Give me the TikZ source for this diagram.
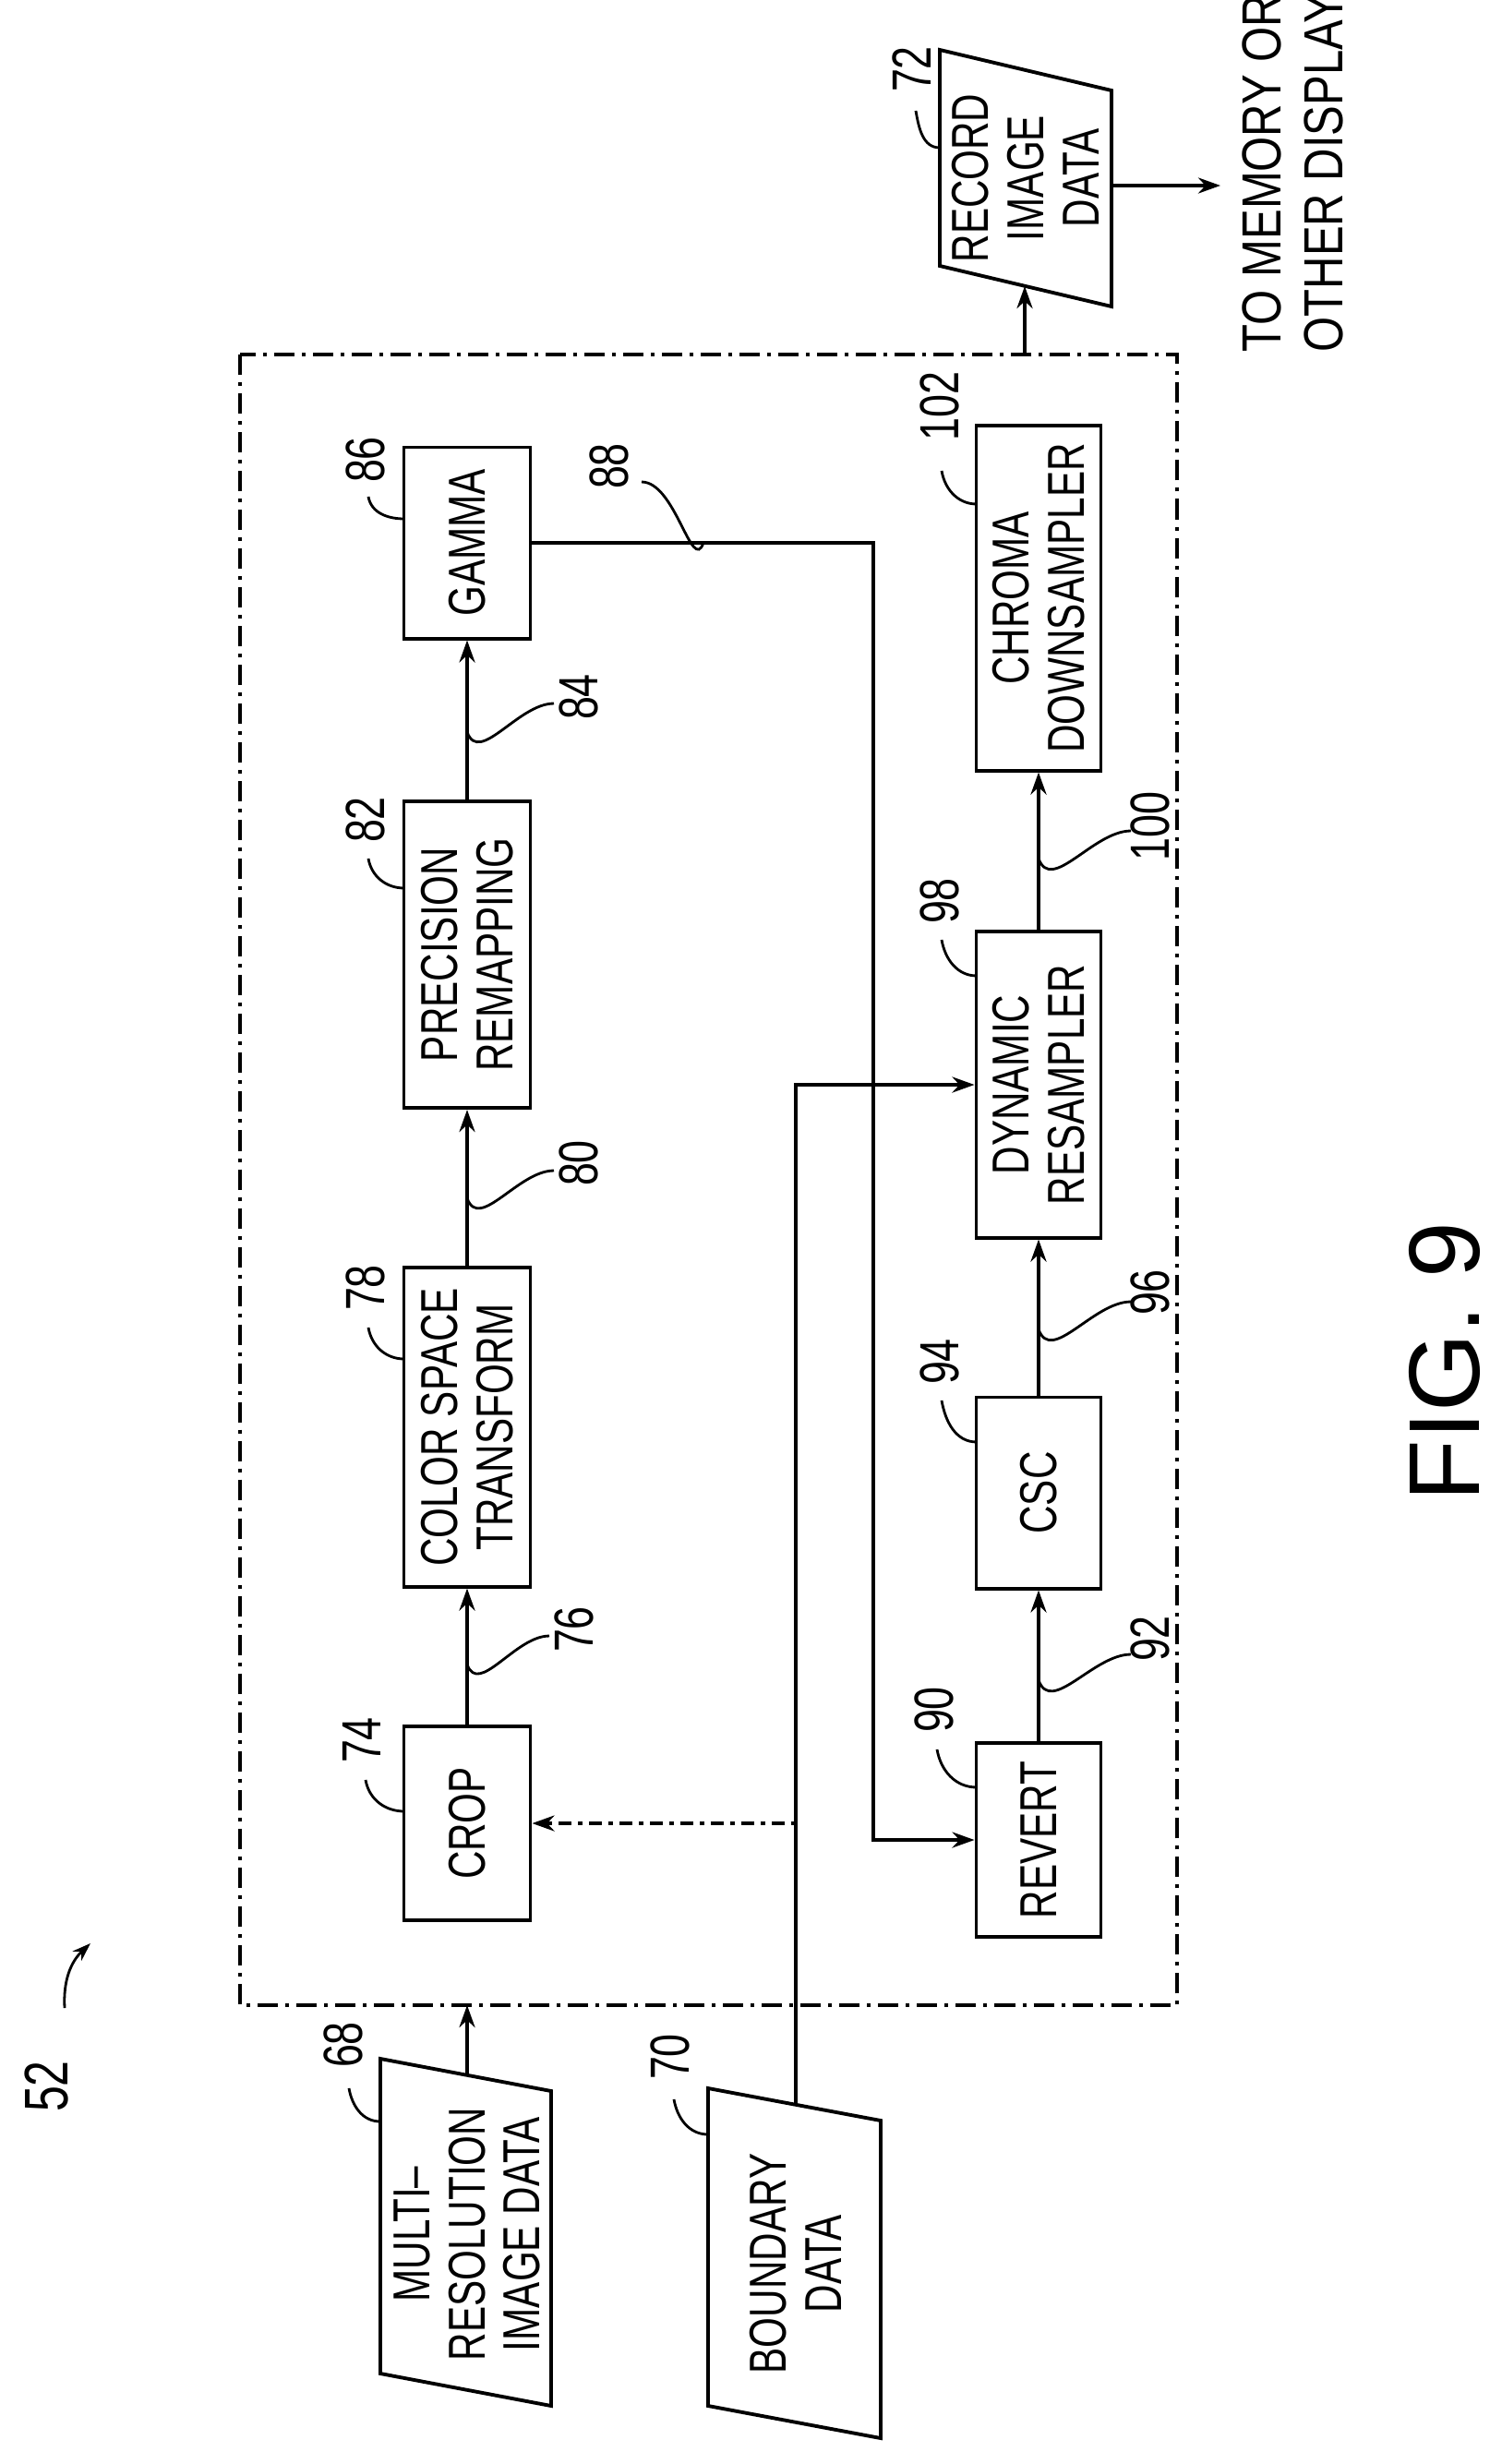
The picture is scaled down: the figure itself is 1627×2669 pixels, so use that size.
\documentclass[tikz,border=0pt]{standalone}
\usepackage{fontspec}
\setmainfont{Liberation Sans}
\newfontfamily\blkfont[FakeStretch=0.75]{Liberation Sans}
\newfontfamily\destfont[FakeStretch=0.82]{Liberation Sans}
\usetikzlibrary{arrows.meta, positioning}

\tikzstyle{blk}=[draw, line width=1.1pt, rotate=90, align=center, inner sep=1pt,
  font=\blkfont\fontsize{16}{17}\selectfont]
\tikzstyle{txt}=[rotate=90, align=center, inner sep=0pt, font=\blkfont\fontsize{16}{17}\selectfont]
\tikzstyle{num}=[rotate=90, inner sep=0pt, font=\blkfont\fontsize{17}{18}\selectfont]
\tikzstyle{flow}=[line width=1.1pt, -{Stealth[length=0.24cm, width=0.17cm]}]
\tikzstyle{lead}=[line width=0.8pt]

\begin{document}
\begin{tikzpicture}[x=0.01cm, y=-0.01cm]
    \useasboundingbox (0,0) rectangle (1627,2669);
    % enclosing unit
    \draw[line width=0.9pt, dash pattern={on 0.22cm off 0.08cm on 0.04cm off 0.08cm}]
      (260,384) rectangle (1275,2172);

    % upper chain
    \node [blk, minimum width=2.10cm, minimum height=1.37cm] (crop) at (506,1975) {CROP};
    \node [blk, minimum width=3.45cm, minimum height=1.37cm] (cst) at (506,1546) {COLOR SPACE\\TRANSFORM};
    \node [blk, minimum width=3.32cm, minimum height=1.37cm] (prec) at (506,1034) {PRECISION\\REMAPPING};
    \node [blk, minimum width=2.07cm, minimum height=1.37cm] (gamma) at (506,588) {GAMMA};
    % lower chain
    \node [blk, minimum width=2.10cm, minimum height=1.35cm] (revert) at (1125,1993) {REVERT};
    \node [blk, minimum width=2.07cm, minimum height=1.35cm] (csc) at (1125,1617) {CSC};
    \node [blk, minimum width=3.31cm, minimum height=1.35cm] (dyn) at (1125,1175) {DYNAMIC\\RESAMPLER};
    \node [blk, minimum width=3.73cm, minimum height=1.35cm] (chroma) at (1125,648) {CHROMA\\DOWNSAMPLER};

    % data blocks
    \draw[line width=1.1pt] (412,2230) -- (597,2265) -- (597,2606) -- (412,2571) -- cycle;
    \node [txt] (multi) at (506,2420) {MULTI\textendash\\RESOLUTION\\IMAGE DATA};
    \draw[line width=1.1pt] (767,2262) -- (954,2297) -- (954,2641) -- (767,2606) -- cycle;
    \node [txt] (bound) at (862,2452) {BOUNDARY\\DATA};
    \draw[line width=1.1pt] (1018,54) -- (1204,98) -- (1204,332) -- (1018,288) -- cycle;
    \node [txt] (record) at (1111,193) {RECORD\\IMAGE\\DATA};

    \coordinate (mrtop) at (506,2248);
    \coordinate (unitbot) at (506,2172);
    \coordinate (bdtop) at (862,2280);
    \coordinate (bdcrop) at (862,1975);
    \coordinate (turn) at (946,588);
    \coordinate (unittop) at (1110,384);
    \coordinate (recbot) at (1110,310);
    \coordinate (recright) at (1204,201);
    \coordinate (out) at (1322,201);

    % connectors
    \draw[flow] (mrtop) -- (unitbot);
    \draw[flow] (crop.east) -- (cst.west);
    \draw[flow] (cst.east) -- (prec.west);
    \draw[flow] (prec.east) -- (gamma.west);
    \draw[flow] (gamma.south) -- (turn) |- (revert.north);
    \draw[flow] (revert.east) -- (csc.west);
    \draw[flow] (csc.east) -- (dyn.west);
    \draw[flow] (dyn.east) -- (chroma.west);
    \draw[flow] (bdtop) |- (dyn.north);
    \draw[flow, dash pattern={on 0.05cm off 0.07cm on 0.14cm off 0.07cm}] (bdcrop) -- (crop.south);
    \draw[flow] (unittop) -- (recbot);
    \draw[flow] (recright) -- (out);

    % reference numerals
    \node [num] (n74) at (392,1885) {74};
    \draw[lead] (396,1928) to[out=-80, in=180] (438,1962);
    \node [num] (n78) at (396,1395) {78};
    \draw[lead] (399,1438) to[out=-80, in=180] (438,1472);
    \node [num] (n82) at (396,888) {82};
    \draw[lead] (399,930) to[out=-80, in=180] (438,962);
    \node [num] (n86) at (396,498) {86};
    \draw[lead] (399,538) to[out=-80, in=180] (438,562);
    \node [num] (n76) at (622,1765) {76};
    \draw[lead] (506,1803) to[out=-70, in=180] (595,1772);
    \node [num] (n80) at (627,1260) {80};
    \draw[lead] (506,1298) to[out=-70, in=180] (600,1268);
    \node [num] (n84) at (627,755) {84};
    \draw[lead] (506,793) to[out=-70, in=180] (600,762);
    \node [num] (n88) at (660,505) {88};
    \draw[lead] (695,522) to[out=0, in=-110] (762,588);
    \node [num] (n90) at (1012,1852) {90};
    \draw[lead] (1015,1895) to[out=-80, in=180] (1058,1936);
    \node [num] (n94) at (1018,1475) {94};
    \draw[lead] (1020,1517) to[out=-80, in=180] (1058,1562);
    \node [num] (n98) at (1018,976) {98};
    \draw[lead] (1020,1018) to[out=-80, in=180] (1058,1057);
    \node [num] (n102) at (1018,440) {102};
    \draw[lead] (1020,510) to[out=-80, in=180] (1058,546);
    \node [num] (n92) at (1246,1775) {92};
    \draw[lead] (1125,1820) to[out=-70, in=180] (1225,1792);
    \node [num] (n96) at (1246,1400) {96};
    \draw[lead] (1125,1440) to[out=-70, in=180] (1225,1410);
    \node [num] (n100) at (1246,895) {100};
    \draw[lead] (1125,930) to[out=-70, in=180] (1225,900);
    \node [num] (n68) at (372,2215) {68};
    \draw[lead] (378,2262) to[out=-80, in=180] (412,2298);
    \node [num] (n70) at (726,2228) {70};
    \draw[lead] (730,2274) to[out=-80, in=180] (767,2312);
    \node [num] (n72) at (988,75) {72};
    \draw[lead] (992,120) to[out=-80, in=180] (1018,160);

    \node [num, align=left, anchor=west, font=\destfont\fontsize{17}{19}\selectfont] (dest) at (1400,382) {TO MEMORY OR\\OTHER DISPLAY};
    \node [num, font=\fontsize{31}{33}\selectfont] (fig) at (1565,1475) {FIG. 9};
    \node [num, font=\blkfont\fontsize{19}{20}\selectfont] (n52) at (50,2260) {52};
    \draw[lead, -{Stealth[length=0.2cm, width=0.14cm]}] (70,2175) to[bend left=25] (98,2105);
\end{tikzpicture}
\end{document}
